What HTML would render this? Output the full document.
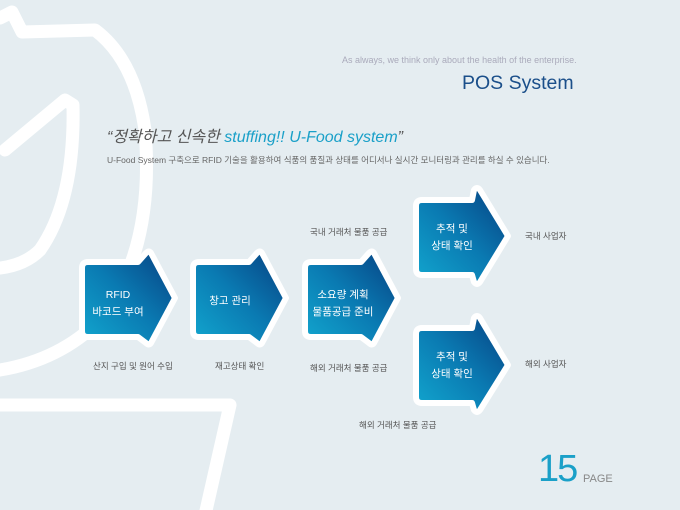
<!DOCTYPE html>
<html><head><meta charset="utf-8"><style>
body{margin:0;width:680px;height:510px;overflow:hidden;background:#e5edf1;font-family:"Liberation Sans","Noto Sans CJK KR",sans-serif;position:relative}
.t{position:absolute;white-space:nowrap}
.lbl{font-size:8.5px;color:#555}
.in{position:absolute;color:#fff;font-size:10.5px;text-align:center;line-height:17px;font-weight:normal}
</style></head><body>
<svg width="680" height="510" style="position:absolute;left:0;top:0">
<defs><linearGradient id="g" x1="0" y1="1" x2="1" y2="0"><stop offset="0" stop-color="#12a7cf"/><stop offset="0.5" stop-color="#0a7ab2"/><stop offset="1" stop-color="#073f80"/></linearGradient></defs>
<g fill="none" stroke="#fff" stroke-width="13" stroke-linejoin="round" stroke-linecap="round">
<path d="M0,18 L12,12 L22,32 L95,30 Q135,60 145,130 Q155,250 100,320 Q60,360 0,370"/>
<path d="M5,150 L65,100 L73,105 Q75,200 40,250 Q25,265 0,268"/>
<path d="M0,405 L230,405 L205,515"/>
</g>
<g stroke="#fff" stroke-width="6" stroke-linejoin="round" fill="url(#g)">
<path d="M88,262 L138,262 L146,253 Q149,250 151,253 L175,298 L151,343 Q149,346 146,343 L138,337 L88,337 Q82,337 82,331 L82,268 Q82,262 88,262Z"/>
<path d="M199,262 L249,262 L257,253 Q260,250 262,253 L286,298 L262,343 Q260,346 257,343 L249,337 L199,337 Q193,337 193,331 L193,268 Q193,262 199,262Z"/>
<path d="M311,262 L361,262 L369,253 Q372,250 374,253 L398,298 L374,343 Q372,346 369,343 L361,337 L311,337 Q305,337 305,331 L305,268 Q305,262 311,262Z"/>
<path d="M422,200 L472,200 L474,190 Q477,186 480,190 L508,236 L480,282 Q477,286 474,282 L472,275 L422,275 Q416,275 416,269 L416,206 Q416,200 422,200Z"/>
<path d="M422,328 L472,328 L474,318 Q477,314 480,318 L508,365 L480,410 Q477,414 474,410 L472,403 L422,403 Q416,403 416,397 L416,334 Q416,328 422,328Z"/>
</g></svg>
<div class="t" style="left:342px;top:55px;font-size:9px;color:#aab">As always, we think only about the health of the enterprise.</div>
<div class="t" style="left:462px;top:72px;font-size:19.5px;color:#1b4f8a">POS System</div>
<div class="t" style="left:107px;top:123px;font-size:16px;font-style:italic;color:#555">“정확하고 신속한 <span style="color:#1aa0c8">stuffing!! U-Food system</span>”</div>
<div class="t" style="left:107px;top:154px;font-size:8.5px;color:#666">U-Food System 구축으로 RFID 기술을 활용하여 식품의 품질과 상태를 어디서나 실시간 모니터링과 관리를 하실 수 있습니다.</div>
<div class="in" style="left:82px;top:287px;width:72px">RFID<br>바코드 부여</div>
<div class="in" style="left:193px;top:293px;width:74px">창고 관리</div>
<div class="in" style="left:305px;top:287px;width:76px">소요량 계획<br>물품공급 준비</div>
<div class="in" style="left:416px;top:221px;width:72px">추적 및<br>상태 확인</div>
<div class="in" style="left:416px;top:349px;width:72px">추적 및<br>상태 확인</div>
<div class="t lbl" style="left:93px;top:360px">산지 구입 및 원어 수입</div>
<div class="t lbl" style="left:215px;top:360px">재고상태 확인</div>
<div class="t lbl" style="left:310px;top:362px">해외 거래처 물품 공급</div>
<div class="t lbl" style="left:310px;top:226px">국내 거래처 물품 공급</div>
<div class="t lbl" style="left:525px;top:230px">국내 사업자</div>
<div class="t lbl" style="left:525px;top:358px">해외 사업자</div>
<div class="t lbl" style="left:359px;top:419px">해외 거래처 물품 공급</div>
<div class="t" style="left:538px;top:448px;font-size:38px;color:#1aa0c8;letter-spacing:-2px">15</div>
<div class="t" style="left:583px;top:473px;font-size:11px;color:#888">PAGE</div>
</body></html>
